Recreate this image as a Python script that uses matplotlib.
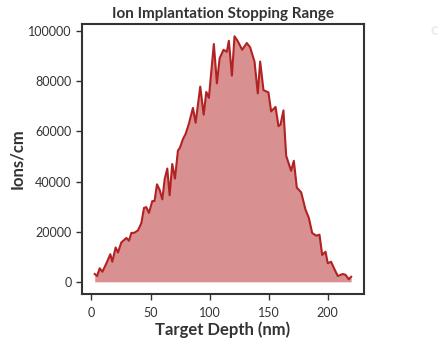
import matplotlib
matplotlib.use("Agg")
import matplotlib.pyplot as plt

# depth profile of implanted ions
depth_nm = [2.8, 4.8, 7.0, 9.3, 12.7, 16.0, 17.7, 20.5, 22.5, 25.3, 29.6, 31.8, 33.8, 36.0,
            39.4, 42.3, 44.5, 46.4, 48.7, 51.5, 53.4, 55.5, 57.8, 60.0, 62.0, 64.2, 66.2,
            68.4, 70.7, 73.2, 75.0, 77.5, 79.7, 82.5, 85.9, 88.2, 92.1, 95.0, 97.2, 99.4,
            103.6, 106.2, 108.5, 111.8, 114.6, 116.3, 118.9, 121.1, 123.9, 127.6, 131.5,
            134.3, 138.0, 140.8, 142.8, 145.6, 149.8, 152.1, 155.8, 158.3, 160.0, 162.5,
            164.8, 169.0, 171.3, 173.8, 177.5, 181.1, 184.0, 186.8, 190.2, 193.0, 195.3,
            198.1, 200.0, 202.8, 205.7, 208.5, 212.7, 215.0, 217.8, 219.8]
ions_per_cm = [3100, 2300, 5400, 4000, 7400, 11000, 8000, 13700, 11700, 15700, 17500, 16400,
               19500, 19500, 20500, 23500, 29500, 29800, 27500, 32200, 32200, 38900, 36600,
               32900, 41000, 45200, 34500, 47000, 41200, 52300, 53600, 57000, 59000, 63100,
               69400, 63500, 77900, 66700, 75800, 73400, 94900, 79200, 89200, 92600, 91800,
               96200, 82300, 98000, 96000, 92600, 95300, 93600, 87900, 75200, 87900, 76500,
               75600, 68000, 69800, 62100, 62700, 68400, 50300, 44300, 48300, 37600, 35700,
               28900, 25500, 19500, 18400, 18800, 10700, 12000, 7400, 8000, 5000, 2300, 3100,
               2800, 1000, 2000]

plt.rcParams["font.family"] = ["Lato", "DejaVu Sans"]
INK = "#333333"
RED = "#b22222"

fig = plt.figure(figsize=(4.38, 3.38), dpi=100)
ax = fig.add_axes([0.187, 0.130, 0.644, 0.799])

ax.fill_between(depth_nm, ions_per_cm, 0, color=RED, alpha=0.5, lw=0)
ax.plot(depth_nm, ions_per_cm, color=RED, lw=1.5)

ax.set_title("Ion Implantation Stopping Range", fontsize=11, fontweight="bold", color=INK, pad=4)
ax.set_xlabel("Target Depth (nm)", fontsize=12, fontweight="bold", color=INK, labelpad=2)
ax.set_ylabel("Ions/cm", fontsize=12, fontweight="bold", color=INK, labelpad=2)

for s in ax.spines.values():
    s.set_linewidth(1.5)
    s.set_color(INK)
ax.tick_params(colors=INK, labelsize=9, length=4, width=1)
ax.tick_params(axis="x", pad=5)
ax.set_xticks([0, 50, 100, 150, 200])
ax.set_yticks([0, 20000, 40000, 60000, 80000, 100000])

# faint clipped mark at the top-right edge
fig.text(0.982, 0.91, "c", fontsize=12, fontweight="bold", color="#ececec", ha="left", va="center")

fig.savefig("out.png", dpi=100)
